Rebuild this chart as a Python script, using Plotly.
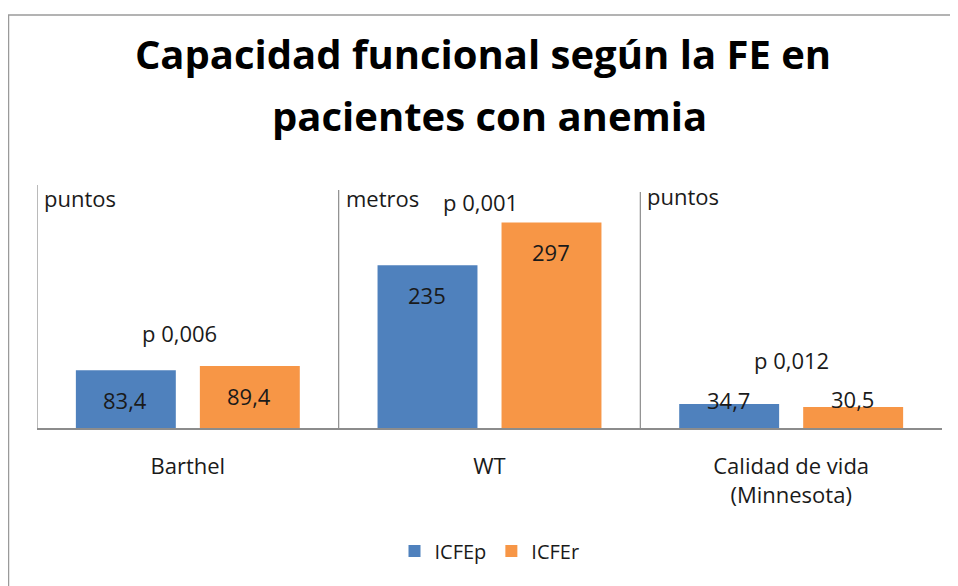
import plotly.graph_objects as go

categories = ["Barthel", "WT", "Calidad de vida<br>(Minnesota)"]
series_names = ["ICFEp", "ICFEr"]
icfep_values = [83.4, 235, 34.7]
icfer_values = [89.4, 297, 30.5]
value_labels_p = ["83,4", "235", "34,7"]
value_labels_r = ["89,4", "297", "30,5"]
p_values = ["p 0,006", "p 0,001", "p 0,012"]
units = ["puntos", "metros", "puntos"]
title_lines = ["Capacidad funcional según la FE en", "pacientes con anemia"]

BLUE = "#4F81BD"
ORANGE = "#F79646"
FONT = "'Open Sans', sans-serif"
TXT = "#1a1a1a"

# the page body adds an 8px margin; the figure is sized to fit the window
W, H = 950, 578
L, R, T, B = 29, 16, 177, 158

fig = go.Figure()
fig.add_trace(go.Bar(name=series_names[0], x=categories, y=icfep_values,
                     marker=dict(color=BLUE, line=dict(width=0))))
fig.add_trace(go.Bar(name=series_names[1], x=categories, y=icfer_values,
                     marker=dict(color=ORANGE, line=dict(width=0))))

annotations = []
p_shifts = [-30, -30, 4]
r_shifts = [-30, -30, 8]
for i, c in enumerate(categories):
    annotations.append(dict(x=c, y=icfep_values[i], xref="x", yref="y", text=value_labels_p[i],
                            showarrow=False, xshift=-63, yshift=p_shifts[i],
                            font=dict(family=FONT, size=22, color=TXT)))
    annotations.append(dict(x=c, y=icfer_values[i], xref="x", yref="y", text=value_labels_r[i],
                            showarrow=False, xshift=61, yshift=r_shifts[i],
                            font=dict(family=FONT, size=22, color=TXT)))
pv_shift = [33, 20, 44]
pv_x = [-8, -9, 0]
for i, c in enumerate(categories):
    annotations.append(dict(x=c, y=max(icfep_values[i], icfer_values[i]), xref="x", yref="y",
                            text=p_values[i], showarrow=False, yshift=pv_shift[i], xshift=pv_x[i],
                            font=dict(family=FONT, size=22, color=TXT)))
unit_y = [0.945, 0.945, 0.955]
for i, u in enumerate(units):
    annotations.append(dict(x=i - 0.5, y=unit_y[i], xref="x", yref="paper", text=u,
                            showarrow=False, xanchor="left", yanchor="middle", xshift=5,
                            font=dict(family=FONT, size=22, color=TXT)))
# second title line
annotations.append(dict(x=0.5, y=1.284, xref="paper", yref="paper", text="<b>%s</b>" % title_lines[1],
                        showarrow=False, xanchor="center", yanchor="middle",
                        font=dict(family=FONT, size=40, color="black")))

shapes = []
sep_tops = [1.0, 0.979, 0.971]
for i in range(3):
    shapes.append(dict(type="line", xref="x", yref="paper", x0=i - 0.5, x1=i - 0.5,
                       y0=0, y1=sep_tops[i], line=dict(color="#8c8c8c", width=1.2)))
shapes.append(dict(type="rect", xref="paper", yref="paper", x0=-0.0315, x1=1.03,
                   y0=-0.72, y1=1.6996, line=dict(color="#9a9a9a", width=1.5),
                   fillcolor="rgba(0,0,0,0)", layer="below"))

fig.update_layout(
    width=W, height=H,
    margin=dict(l=L, r=R, t=T, b=B),
    paper_bgcolor="white", plot_bgcolor="white",
    barmode="group", bargap=0.178, bargroupgap=0.194,
    title=dict(text="<b>%s</b>" % title_lines[0],
               x=0.5, xanchor="center", y=0.918, yanchor="middle", yref="container",
               font=dict(family=FONT, size=40, color="black")),
    font=dict(family=FONT, color=TXT),
    xaxis=dict(showline=True, linecolor="#8c8c8c", linewidth=1.5, showgrid=False,
               ticks="", tickfont=dict(family=FONT, size=22, color=TXT),
               ticklabelstandoff=18, range=[-0.5, 2.5]),
    yaxis=dict(range=[0, 351], showgrid=False, showticklabels=False, zeroline=False,
               showline=False),
    legend=dict(orientation="h", x=0.5, xanchor="center", y=-0.506, yanchor="middle",
                font=dict(family=FONT, size=20, color=TXT), itemsizing="constant"),
    annotations=annotations,
    shapes=shapes,
    showlegend=True,
)

fig.write_html("out.html")
